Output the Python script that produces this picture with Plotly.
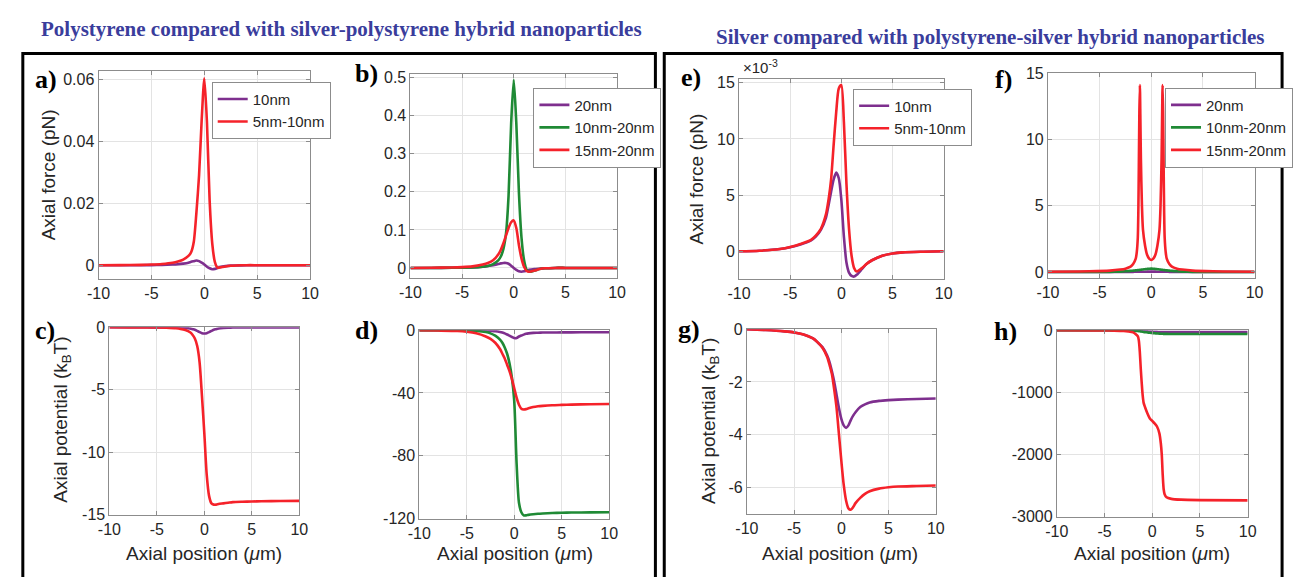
import plotly.graph_objects as go

W, H = 1296, 577

# ---------------- data ----------------
X = [-10, -8, -6, -5, -4, -3, -2.5, -2, -1.5, -1.25, -1, -0.75, -0.5, -0.25, 0,
     0.25, 0.5, 0.75, 1, 1.25, 1.5, 2, 2.5, 3, 4, 5, 6, 8, 10]

# a) axial force (pN)
A_10NM = [0, 0, 0, 0.00002, 0.0001, 0.0002, 0.0003, 0.0005, 0.0008, 0.0011, 0.0013, 0.0015, 0.0013, 0.0008, 0.0002,
          -0.0005, -0.001, -0.0013, -0.0012, -0.0009, -0.0006, -0.0003, -0.00015, -0.0001, -0.00003, 0, 0, 0, 0]
A_5_10NM = [0, 0.00003, 0.0001, 0.0002, 0.0004, 0.0008, 0.0012, 0.0018, 0.003, 0.0042, 0.0075, 0.017, 0.029, 0.047, 0.0605,
            0.046, 0.021, 0.007, 0.001, -0.0008, -0.0007, -0.0004, -0.0002, -0.0001, 0, 0, 0, 0, 0]

# b) axial force (pN)
B_20NM = [0, 0, 0.0003, 0.0006, 0.001, 0.003, 0.005, 0.007, 0.01, 0.012, 0.013, 0.013, 0.011, 0.006, 0,
          -0.005, -0.009, -0.01, -0.009, -0.007, -0.005, -0.003, -0.002, -0.001, 0, 0, 0, 0, 0]
B_10_20NM = [0, 0, 0.0003, 0.0006, 0.001, 0.003, 0.005, 0.01, 0.02, 0.03, 0.05, 0.09, 0.19, 0.38, 0.495,
             0.38, 0.2, 0.08, 0.02, -0.005, -0.01, -0.007, -0.003, -0.001, 0, 0, 0, 0, 0]
B_15_20NM = [0, 0.0005, 0.001, 0.002, 0.004, 0.009, 0.013, 0.02, 0.035, 0.048, 0.065, 0.085, 0.105, 0.12, 0.125,
             0.105, 0.06, 0.025, 0.003, -0.008, -0.01, -0.007, -0.003, -0.001, 0, 0, 0, 0, 0]

# c) axial potential (kBT)
C_10NM = [0, 0, 0, -0.005, -0.008, -0.01, -0.03, -0.05, -0.1, -0.15, -0.2, -0.29, -0.38, -0.47, -0.5,
          -0.47, -0.38, -0.29, -0.2, -0.15, -0.1, -0.05, -0.03, -0.02, -0.01, -0.01, -0.01, -0.01, -0.01]
C_5_10NM = [0, -0.01, -0.01, -0.02, -0.04, -0.08, -0.13, -0.22, -0.4, -0.6, -0.9, -1.5, -2.8, -5.5, -8.5,
            -11.8, -13.5, -14.1, -14.2, -14.2, -14.15, -14.1, -14.05, -14.0, -13.97, -13.95, -13.93, -13.91, -13.9]

# d) axial potential (kBT)
D_20NM = [0, 0, -0.05, -0.1, -0.15, -0.2, -0.4, -0.6, -1.1, -1.5, -2, -2.7, -3.5, -4.3, -5,
          -5, -4, -3.4, -2.8, -2.3, -2, -1.7, -1.6, -1.5, -1.45, -1.4, -1.35, -1.3, -1.3]
D_10_20NM = [0, -0.05, -0.1, -0.2, -0.5, -1.2, -2, -3.5, -6, -8, -11, -15, -21, -30, -45,
             -85, -110, -116, -118, -118, -117.7, -117.3, -117, -116.8, -116.5, -116.3, -116.2, -116.1, -116]
D_15_20NM = [0, -0.2, -0.5, -1, -2, -4, -5.5, -8, -12, -15, -18, -22, -26, -31, -37,
             -43, -47.5, -50, -50.5, -50.3, -49.8, -49, -48.5, -48.2, -47.8, -47.6, -47.4, -47.2, -47]

# e) axial force (x10^-3 pN)
E_10NM = [0, 0.05, 0.2, 0.35, 0.6, 0.95, 1.3, 1.9, 3.0, 4.1, 5.3, 6.4, 7.0, 6.5, 4.6,
          1.3, -1.0, -1.9, -2.2, -2.25, -2.1, -1.6, -1.1, -0.8, -0.4, -0.2, -0.1, -0.04, 0]
E_5_10NM = [0, 0.05, 0.2, 0.38, 0.65, 1.0, 1.4, 2.0, 3.3, 4.6, 6.4, 9.5, 12.4, 14.5, 14.8,
            11.5, 6.0, 2.0, -0.4, -1.5, -1.8, -1.5, -1.1, -0.8, -0.4, -0.2, -0.1, -0.04, 0]

# g) axial potential (kBT)
G_10NM = [0, -0.03, -0.08, -0.12, -0.2, -0.35, -0.5, -0.68, -1.0, -1.25, -1.6, -2.0, -2.5, -3.0, -3.4,
          -3.65, -3.75, -3.65, -3.45, -3.28, -3.15, -2.95, -2.85, -2.78, -2.72, -2.69, -2.67, -2.65, -2.63]
G_5_10NM = [0, -0.03, -0.08, -0.12, -0.2, -0.35, -0.5, -0.7, -1.05, -1.35, -1.7, -2.3, -3.0, -4.0, -5.0,
            -5.9, -6.5, -6.8, -6.85, -6.75, -6.6, -6.4, -6.25, -6.15, -6.05, -6.0, -5.97, -5.95, -5.93]

# f) axial force (pN)
XF = [-10, -6, -4, -3, -2.5, -2, -1.75, -1.5, -1.4, -1.3, -1.25, -1.2, -1.15, -1.1, -1.05, -1.0, -0.9, -0.8,
      -0.6, -0.4, -0.2, 0, 0.2, 0.4, 0.6, 0.8, 0.9, 1.0, 1.05, 1.1, 1.15, 1.2, 1.25, 1.3, 1.4, 1.5, 1.75,
      2, 2.5, 3, 4, 6, 10]
F_20NM = [0, 0, 0.001, 0.003, 0.005, 0.008, 0.01, 0.012, 0.013, 0.014, 0.0145, 0.015, 0.0155, 0.016, 0.0165,
          0.017, 0.018, 0.019, 0.021, 0.023, 0.0245, 0.025, 0.0245, 0.023, 0.021, 0.019, 0.018, 0.017, 0.0165,
          0.016, 0.0155, 0.015, 0.0145, 0.014, 0.013, 0.012, 0.01, 0.008, 0.005, 0.003, 0.001, 0, 0]
F_10_20NM = [0, 0, 0.01, 0.03, 0.05, 0.08, 0.1, 0.12, 0.13, 0.14, 0.145, 0.15, 0.155, 0.16, 0.165,
             0.17, 0.18, 0.19, 0.21, 0.23, 0.245, 0.25, 0.245, 0.23, 0.21, 0.19, 0.18, 0.17, 0.165,
             0.16, 0.155, 0.15, 0.145, 0.14, 0.13, 0.12, 0.1, 0.08, 0.05, 0.03, 0.01, 0, 0]
F_15_20NM = [0.02, 0.05, 0.1, 0.18, 0.25, 0.4, 0.6, 1.0, 1.5, 2.6, 4.5, 8, 12, 14.1, 11.5, 8.5, 5, 3.2,
             2.0, 1.3, 1.0, 0.9, 1.0, 1.3, 2.0, 3.2, 5, 8.5, 11.5, 14.1, 12, 8, 4.5, 2.6, 1.5, 1.0, 0.6,
             0.4, 0.25, 0.18, 0.1, 0.05, 0.02]

# h) axial potential (kBT)
XH = [-10, -6, -5, -4, -3, -2.5, -2, -1.75, -1.5, -1.4, -1.3, -1.2, -1.1, -1.0, -0.9, -0.75, -0.5, -0.25,
      0, 0.25, 0.5, 0.75, 0.9, 1.0, 1.1, 1.2, 1.3, 1.5, 2, 3, 5, 10]
H_20NM = [0, -0.5, -1, -2, -3, -4, -5, -6, -7, -8, -9, -10, -11, -12, -13, -15, -18, -21,
          -24, -26, -27, -28, -28.5, -29, -29.5, -30, -30, -30.5, -31, -31, -31, -31]
H_10_20NM = [0, -0.5, -1, -2, -3, -5, -8, -10, -13, -15, -17, -19, -21, -24, -27, -31, -36, -41,
             -45, -49, -52, -55, -56, -57, -58, -58.5, -59, -59.5, -60, -61, -61.5, -62]
H_15_20NM = [0, -2, -3, -6, -12, -20, -35, -60, -100, -170, -350, -620, -850, -1050, -1170, -1240, -1340, -1420,
             -1460, -1500, -1550, -1660, -1820, -2000, -2330, -2560, -2640, -2690, -2715, -2728, -2735, -2740]

XTICKS = [-10, -5, 0, 5, 10]
XTICK_TEXT = ["-10", "-5", "0", "5", "10"]

TITLE_LEFT = "Polystyrene compared with silver-polystyrene hybrid nanoparticles"
TITLE_RIGHT = "Silver compared with polystyrene-silver hybrid nanoparticles"

# ---------------- styles ----------------
PURPLE = "#7E2F8E"
GREEN = "#1f8a35"
RED = "#f5222a"
LW = 2.6
TICKFONT = dict(family="Liberation Sans, Arial", size=16, color="#262626")
TITLEFONT = dict(family="Liberation Sans, Arial", size=19, color="#262626")
AXCOL = "#8c8c8c"
GRIDCOL = "#e3e3e3"


def fx(px):
    return px / W


def fy(py):
    return 1 - py / H


# panels: key -> (left, right, top, bottom) in px, y range, y tick vals, y tick text
panels = {
    "a": ((88, 303, 65, 279), [-0.0044, 0.0628], [0, 0.02, 0.04, 0.06], ["0", "0.02", "0.04", "0.06"]),
    "b": ((405, 615, 68, 278), [-0.026, 0.51], [0, 0.1, 0.2, 0.3, 0.4, 0.5], ["0", "0.1", "0.2", "0.3", "0.4", "0.5"]),
    "e": ((739, 947, 73, 279), [-2.45, 15.35], [0, 5, 10, 15], ["0", "5", "10", "15"]),
    "f": ((1053, 1263, 67, 278), [-0.44, 15], [0, 5, 10, 15], ["0", "5", "10", "15"]),
    "c": ((99, 292, 329, 522), [-15, 0], [-15, -10, -5, 0], ["-15", "-10", "-5", "0"]),
    "d": ((414, 607, 332, 526), [-120, 0], [-120, -80, -40, 0], ["-120", "-80", "-40", "0"]),
    "g": ((747, 939, 331, 521), [-7, 0], [-6, -4, -2, 0], ["-6", "-4", "-2", "0"]),
    "h": ((1062, 1256, 332, 524), [-3000, 0], [-3000, -2000, -1000, 0], ["-3000", "-2000", "-1000", "0"]),
}
order = ["a", "b", "e", "f", "c", "d", "g", "h"]

fig = go.Figure()
layout = {}
axis_id = {}
for i, k in enumerate(order):
    n = "" if i == 0 else str(i + 1)
    axis_id[k] = n
    (l, r, t, b), yr, yv, yt = panels[k]
    common = dict(showline=True, linecolor=AXCOL, linewidth=1, mirror="ticks", ticks="inside",
                  ticklen=4, tickcolor=AXCOL, showgrid=True, gridcolor=GRIDCOL, gridwidth=1,
                  zeroline=False, tickfont=TICKFONT, fixedrange=True)
    layout["xaxis" + n] = dict(domain=[fx(l), fx(r)], range=[-10, 10], tickmode="array",
                               tickvals=XTICKS, ticktext=XTICK_TEXT, anchor="y" + n, **common)
    layout["yaxis" + n] = dict(domain=[fy(b), fy(t)], range=yr, tickmode="array",
                               tickvals=yv, ticktext=yt, anchor="x" + n, **common)


def add(k, x, y, color, name, legend=None):
    n = axis_id[k]
    fig.add_trace(go.Scatter(
        x=x, y=y, mode="lines", name=name,
        line=dict(color=color, width=LW, shape="spline", smoothing=0.7),
        xaxis="x" + n, yaxis="y" + n,
        showlegend=legend is not None, legend=legend if legend else "legend",
    ))


add("a", X, A_10NM, PURPLE, "10nm", "legend")
add("a", X, A_5_10NM, RED, "5nm-10nm", "legend")
add("b", X, B_20NM, PURPLE, "20nm", "legend2")
add("b", X, B_10_20NM, GREEN, "10nm-20nm", "legend2")
add("b", X, B_15_20NM, RED, "15nm-20nm", "legend2")
add("e", X, E_10NM, PURPLE, "10nm", "legend3")
add("e", X, E_5_10NM, RED, "5nm-10nm", "legend3")
add("f", XF, F_20NM, PURPLE, "20nm", "legend4")
add("f", XF, F_10_20NM, GREEN, "10nm-20nm", "legend4")
add("f", XF, F_15_20NM, RED, "15nm-20nm", "legend4")
add("c", X, C_10NM, PURPLE, "10nm")
add("c", X, C_5_10NM, RED, "5nm-10nm")
add("d", X, D_20NM, PURPLE, "20nm")
add("d", X, D_10_20NM, GREEN, "10nm-20nm")
add("d", X, D_15_20NM, RED, "15nm-20nm")
add("g", X, G_10NM, PURPLE, "10nm")
add("g", X, G_5_10NM, RED, "5nm-10nm")
add("h", XH, H_20NM, PURPLE, "20nm")
add("h", XH, H_10_20NM, GREEN, "10nm-20nm")
add("h", XH, H_15_20NM, RED, "15nm-20nm")

legend_common = dict(font=dict(family="Liberation Sans, Arial", size=15, color="#262626"),
                     bgcolor="white", bordercolor="#8c8c8c", borderwidth=1,
                     xanchor="left", yanchor="top", itemwidth=30, tracegroupgap=0,
                     xref="paper", yref="paper")
layout["legend"] = dict(x=fx(203), y=fy(76), **legend_common)
layout["legend2"] = dict(x=fx(530), y=fy(82), **legend_common)
layout["legend3"] = dict(x=fx(855), y=fy(83), **legend_common)
layout["legend4"] = dict(x=fx(1172), y=fy(82), **legend_common)

ann = []


def text(px, py, s, font, angle=0, xanchor="center"):
    ann.append(dict(x=fx(px), y=fy(py), xref="paper", yref="paper", text=s, showarrow=False,
                    font=font, textangle=angle, xanchor=xanchor, yanchor="middle"))


TFONT = dict(family="Liberation Serif, Times New Roman", size=21, color="#3a3d9c")
text(335, 22, "<b>" + TITLE_LEFT + "</b>", TFONT)
text(995, 30, "<b>" + TITLE_RIGHT + "</b>", TFONT)

LFONT = dict(family="Liberation Serif, Times New Roman", size=26, color="black")
for lab, (px, py) in {"a)": (35, 74), "b)": (360, 68), "c)": (34, 332), "d)": (360, 332),
                      "e)": (690, 72), "f)": (1008, 74), "g)": (688, 331), "h)": (1010, 333)}.items():
    text(px, py, "<b>" + lab + "</b>", LFONT)

text(38, 172, "Axial force (pN)", TITLEFONT, angle=-90)
text(696, 176, "Axial force (pN)", TITLEFONT, angle=-90)
text(50, 424, "Axial potential (k<sub>B</sub>T)", TITLEFONT, angle=-90)
text(710, 425, "Axial potential (k<sub>B</sub>T)", TITLEFONT, angle=-90)
for cx in (195, 511, 842, 1159):
    text(cx, 562, "Axial position (<i>μ</i>m)", TITLEFONT)
text(741, 60, "×10<sup>-3</sup>", dict(family="Liberation Sans, Arial", size=15, color="#262626"),
     xanchor="left")

shapes = [
    dict(type="rect", xref="paper", yref="paper", x0=fx(11), x1=fx(654), y0=fy(600), y1=fy(47),
         line=dict(color="black", width=3)),
    dict(type="rect", xref="paper", yref="paper", x0=fx(663), x1=fx(1291), y0=fy(600), y1=fy(47),
         line=dict(color="black", width=3)),
]

fig.update_layout(width=W, height=H, margin=dict(l=0, r=0, t=0, b=0), plot_bgcolor="white",
                  paper_bgcolor="white", annotations=ann, shapes=shapes, **layout)
fig.write_html("out.html", config={"displayModeBar": False},
               post_script="document.body.style.margin='0';document.body.style.overflow='hidden';")
